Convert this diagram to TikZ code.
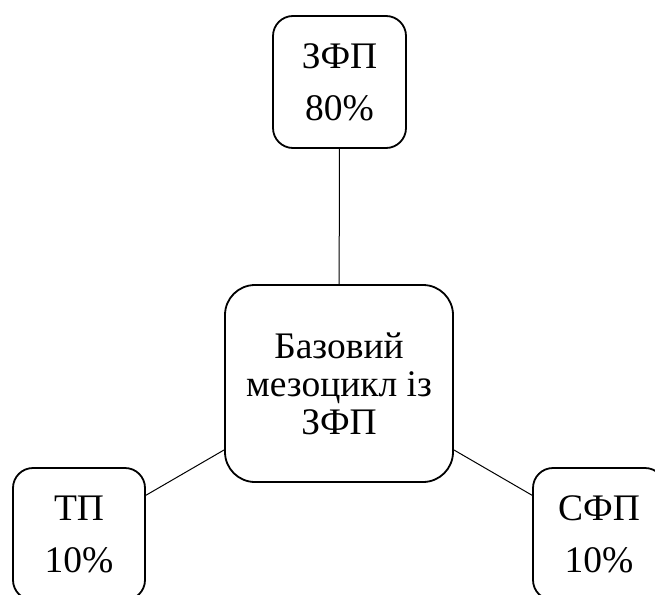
\documentclass[tikz,border=0pt]{standalone}
\usepackage{fontspec}
\setmainfont{Liberation Serif}
\begin{document}
\begin{tikzpicture}[x=1pt,y=-1pt,
  box/.style={draw, line width=1.8pt, rounded corners=20pt, inner sep=0pt, align=center,
    font=\fontsize{37.5}{52}\selectfont},
  bigbox/.style={box, rounded corners=30pt, font=\fontsize{37.5}{38}\selectfont},
  link/.style={line width=1pt}]
\useasboundingbox (0,0) rectangle (655,594);
\node[box, minimum width=133pt, minimum height=132pt] (top) at (339.5,82) {ЗФП\\80\%};
\node[bigbox, minimum width=228pt, minimum height=197pt] (mid) at (339,383.5) {Базовий\\мезоцикл із\\ЗФП};
\node[box, minimum width=132pt, minimum height=132pt] (left) at (79,534) {ТП\\10\%};
\node[box, minimum width=132pt, minimum height=132pt] (right) at (599,534) {СФП\\10\%};
\draw[link] (top) -- (mid);
\draw[link] (mid) -- (left);
\draw[link] (mid) -- (right);
\end{tikzpicture}
\end{document}
